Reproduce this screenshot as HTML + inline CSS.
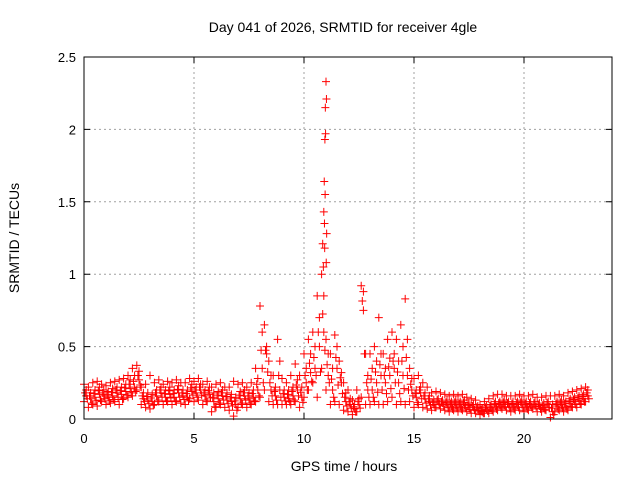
<!DOCTYPE html>
<html><head><meta charset="utf-8"><style>
body{margin:0;background:#fff}
svg{display:block;font-family:"Liberation Sans",sans-serif}
</style></head><body>
<svg id="chart" width="640" height="480" viewBox="0 0 640 480">
<rect width="640" height="480" fill="#fff"/>
<text x="343" y="32" font-size="14" text-anchor="middle">Day 041 of 2026, SRMTID for receiver 4gle</text>
<g id="grid"></g>
<g id="marks"></g>
<rect x="84" y="57" width="528" height="362" fill="none" stroke="#000" stroke-width="1"/>
<g id="ticks"></g>
<text x="344" y="471" font-size="14" text-anchor="middle">GPS time / hours</text>
<text transform="translate(19,238) rotate(-90)" font-size="14" text-anchor="middle">SRMTID / TECUs</text>
</svg>
<script>
const xTicks=[0,5,10,15,20];
const yTicks=[0,0.5,1,1.5,2,2.5];
const yTickLabels=["0","0.5","1","1.5","2","2.5"];
// rows: hour, four sampled SRMTID values
const hours=[0,0.2,0.4,0.6,0.8,1,1.2,1.4,1.6,1.8,2,2.2,2.4,2.6,2.8,3,3.2,3.4,3.6,3.8,4,4.2,4.4,4.6,4.8,5,5.2,5.4,5.6,5.8,6,6.2,6.4,6.6,6.8,7,7.2,7.4,7.6,7.8,8,8.2,8.4,8.6,8.8,9,9.2,9.4,9.6,9.8,10,10.2,10.4,10.6,10.8,11,11.2,11.4,11.6,11.8,12,12.2,12.4,12.6,12.8,13,13.2,13.4,13.6,13.8,14,14.2,14.4,14.6,14.8,15,15.2,15.4,15.6,15.8,16,16.2,16.4,16.6,16.8,17,17.2,17.4,17.6,17.8,18,18.2,18.4,18.6,18.8,19,19.2,19.4,19.6,19.8,20,20.2,20.4,20.6,20.8,21,21.2,21.4,21.6,21.8,22,22.2,22.4,22.6,22.8];
const valLo=[0.12,0.08,0.1,0.09,0.12,0.1,0.11,0.12,0.1,0.14,0.15,0.16,0.2,0.1,0.08,0.07,0.1,0.12,0.1,0.12,0.1,0.12,0.11,0.1,0.14,0.12,0.13,0.1,0.12,0.05,0.08,0.1,0.08,0.06,0.02,0.08,0.1,0.08,0.1,0.12,0.15,0.2,0.12,0.1,0.1,0.1,0.1,0.1,0.12,0.08,0.15,0.2,0.25,0.15,0.35,0.2,0.1,0.12,0.1,0.06,0.05,0.03,0.05,0.15,0.1,0.1,0.12,0.1,0.1,0.12,0.15,0.1,0.12,0.1,0.12,0.08,0.1,0.08,0.07,0.06,0.08,0.07,0.06,0.05,0.06,0.05,0.06,0.05,0.04,0.04,0.03,0.04,0.04,0.05,0.06,0.07,0.06,0.05,0.06,0.06,0.05,0.06,0.07,0.05,0.05,0.06,0.01,0.05,0.06,0.05,0.06,0.08,0.08,0.1,0.12];
const valA=[0.16,0.14,0.15,0.17,0.16,0.15,0.16,0.18,0.17,0.19,0.21,0.22,0.27,0.14,0.13,0.12,0.16,0.18,0.15,0.17,0.15,0.18,0.16,0.15,0.19,0.18,0.2,0.16,0.17,0.12,0.14,0.16,0.13,0.12,0.1,0.14,0.16,0.14,0.15,0.2,0.35,0.45,0.2,0.16,0.2,0.15,0.14,0.16,0.2,0.15,0.25,0.32,0.35,0.5,0.6,0.3,0.2,0.35,0.25,0.12,0.1,0.07,0.1,0.75,0.2,0.2,0.25,0.3,0.25,0.3,0.35,0.25,0.3,0.3,0.2,0.15,0.18,0.14,0.12,0.1,0.12,0.11,0.1,0.09,0.1,0.09,0.1,0.08,0.08,0.07,0.05,0.07,0.08,0.09,0.1,0.1,0.1,0.09,0.1,0.1,0.09,0.1,0.1,0.09,0.08,0.1,0.05,0.09,0.1,0.09,0.11,0.12,0.13,0.14,0.16];
const valB=[0.2,0.18,0.2,0.22,0.2,0.19,0.21,0.22,0.22,0.24,0.27,0.3,0.33,0.18,0.18,0.17,0.2,0.22,0.2,0.22,0.2,0.23,0.2,0.2,0.24,0.22,0.24,0.2,0.22,0.18,0.19,0.2,0.18,0.17,0.15,0.19,0.2,0.18,0.2,0.28,0.6,0.5,0.3,0.22,0.4,0.2,0.2,0.22,0.27,0.22,0.35,0.45,0.5,0.7,0.85,0.45,0.35,0.5,0.32,0.18,0.14,0.1,0.14,0.88,0.3,0.35,0.4,0.45,0.35,0.42,0.45,0.4,0.5,0.55,0.28,0.2,0.22,0.18,0.16,0.13,0.14,0.13,0.13,0.12,0.13,0.12,0.13,0.11,0.1,0.09,0.07,0.09,0.1,0.12,0.12,0.13,0.12,0.12,0.12,0.13,0.12,0.12,0.12,0.11,0.11,0.12,0.1,0.12,0.13,0.12,0.14,0.15,0.16,0.17,0.2];
const valHi=[0.24,0.22,0.25,0.26,0.24,0.23,0.25,0.26,0.27,0.28,0.3,0.35,0.37,0.22,0.24,0.3,0.25,0.27,0.24,0.26,0.25,0.27,0.25,0.25,0.28,0.26,0.28,0.24,0.26,0.22,0.24,0.25,0.22,0.22,0.26,0.24,0.25,0.22,0.25,0.35,0.78,0.65,0.4,0.3,0.55,0.28,0.25,0.3,0.38,0.3,0.45,0.55,0.6,0.85,1.0,0.55,0.45,0.58,0.4,0.25,0.2,0.13,0.2,0.92,0.45,0.45,0.5,0.7,0.45,0.55,0.6,0.55,0.65,0.83,0.35,0.28,0.3,0.25,0.22,0.18,0.19,0.18,0.17,0.16,0.17,0.16,0.17,0.15,0.14,0.13,0.1,0.12,0.14,0.16,0.17,0.17,0.16,0.16,0.16,0.17,0.16,0.16,0.17,0.15,0.15,0.16,0.16,0.16,0.17,0.16,0.18,0.19,0.2,0.21,0.22];
// spike near 11 h
const spikeHours=[10.85,10.9,10.92,10.95,10.97,11.0,11.02,10.88,10.93,10.98,11.03,10.96,10.94,11.01];
const spikeVals=[1.21,1.43,1.64,1.93,2.15,2.33,2.21,1.05,1.35,1.97,1.28,1.55,1.18,1.08];

const NS="http://www.w3.org/2000/svg";
const X0=84,X1=612,Y0=419,Y1=57,XMAX=24,YMAX=2.5;
const xs=h=>X0+(X1-X0)*h/XMAX;
const ys=v=>Y0-(Y0-Y1)*v/YMAX;
const grid=document.getElementById('grid'),ticks=document.getElementById('ticks'),marks=document.getElementById('marks');
function mk(tag,attrs,parent){const e=document.createElementNS(NS,tag);for(const k in attrs)e.setAttribute(k,attrs[k]);parent.appendChild(e);return e;}
xTicks.forEach(t=>{
  const x=xs(t);
  if(t>0){const g=mk('line',{x1:x,x2:x,y1:Y0,y2:Y1,stroke:'#a0a0a0','stroke-dasharray':'2,3'},grid);
  
  }
  const tk=mk('path',{d:`M${x},${Y0}v-6M${x},${Y1}v6`,stroke:'#000'},ticks);
  
  
  const l=mk('text',{x:x,y:443,'font-size':13,'text-anchor':'middle'},ticks);l.textContent=t;
  
  
});
[22.5].forEach(()=>{});
yTicks.forEach((t,i)=>{
  const y=ys(t);
  if(t>0&&t<YMAX){const g=mk('line',{x1:X0,x2:X1,y1:y,y2:y,stroke:'#a0a0a0','stroke-dasharray':'2,3'},grid);
  
  }
  const tk=mk('path',{d:`M${X0},${y}h6M${X1},${y}h-6`,stroke:'#000'},ticks);
  
  
  const l=mk('text',{x:76,y:y+5,'font-size':13,'text-anchor':'end'},ticks);l.textContent=yTickLabels[i];
  
  
});
let d='';
function plus(h,v){const x=xs(h),y=ys(v);d+=`M${x-4},${y}h8M${x},${y-4}v8`;}
hours.forEach((h,i)=>{
  plus(h,valLo[i]);plus(h,valHi[i]);
  plus(h+0.1,valA[i]);plus(h+0.1,valB[i]);
  plus(h+0.05,(valA[i]+valB[i])/2);
  plus(h+0.15,(valLo[i]+valA[i])/2);
});
spikeHours.forEach((h,i)=>plus(h,spikeVals[i]));
const p=mk('path',{d:d,stroke:'#ff0000','stroke-width':1,fill:'none'},marks);


</script>
</body></html>
